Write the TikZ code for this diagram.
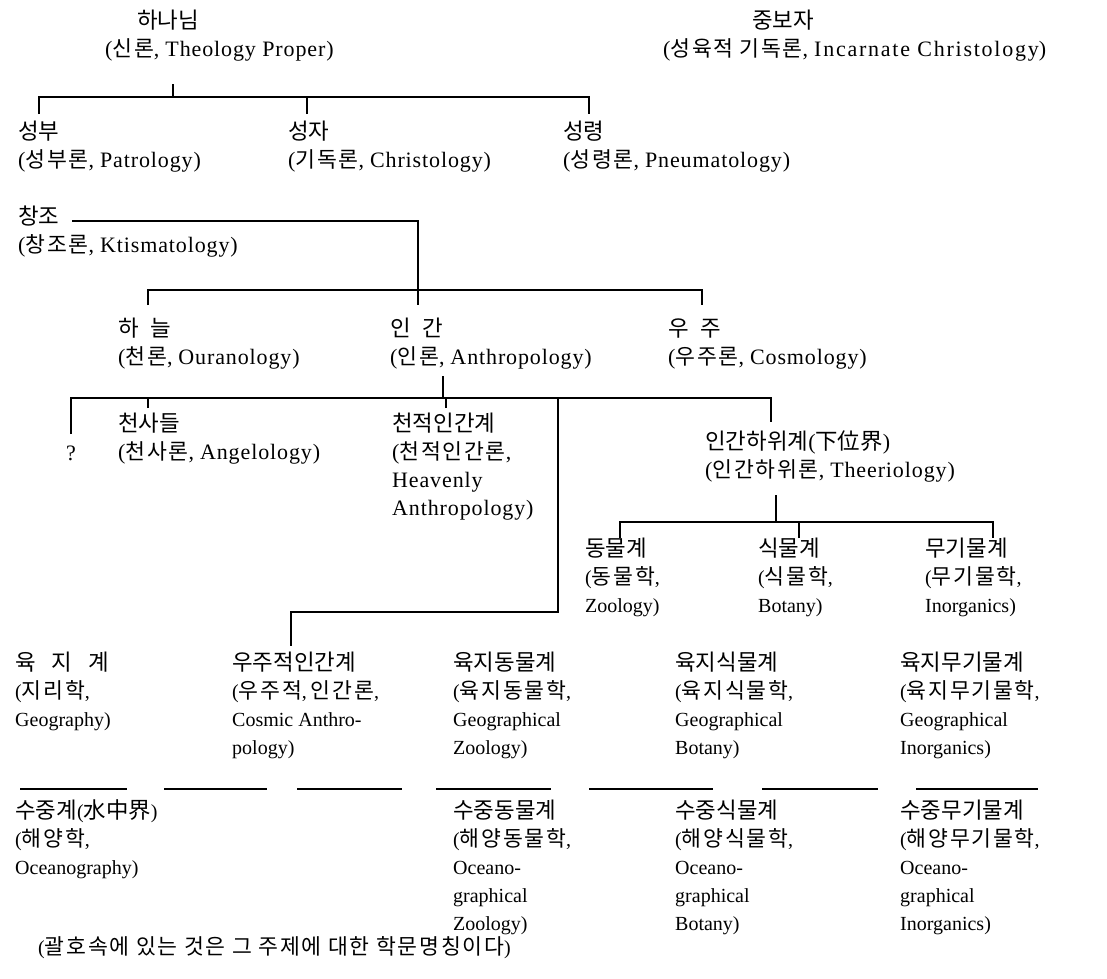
\documentclass[tikz,border=0pt]{standalone}
\usepackage{fontspec}
\setmainfont{Liberation Serif}
\newfontfamily\wideserif{Liberation Serif}[LetterSpace=4]
\newfontfamily\krfont{Noto Sans CJK KR}
\newfontfamily\krpfont{Noto Sans CJK KR}[LetterSpace=8]
\newcommand\ko[1]{{\fontsize{22.4}{28}\selectfont\krfont #1}}
\newcommand\kp[1]{{\fontsize{21.6}{28}\selectfont\krpfont #1}}
\begin{document}
\begin{tikzpicture}[x=1pt,y=-1pt,
  lab/.style={anchor=north west, inner sep=0pt, align=left, font=\fontsize{20}{28}\selectfont},
  labu/.style={lab, font=\fontsize{22}{28}\selectfont\wideserif},
  ln/.style={line width=1.7pt, line cap=butt}]
\useasboundingbox (0,0) rectangle (1107,978);

% ---- texts ----
\node[labu] (god) at (137,9) {\strut\ko{하나님}};
\node[labu] (godsub) at (105,37) {\strut(\kp{신론},\hspace{6pt}Theology Proper)};
\node[labu] (med) at (752,9) {\strut\ko{중보자}};
\node[labu] (medsub) at (663,37) {\strut(\kp{성육적}\hspace{6pt}\kp{기독론},\hspace{6pt}{\addfontfeature{LetterSpace=8}Incarnate Christology})};

\node[labu] (father) at (18,120) {\strut\ko{성부}\\(\kp{성부론},\hspace{6pt}Patrology)};
\node[labu] (son) at (288,120) {\strut\ko{성자}\\(\kp{기독론},\hspace{6pt}Christology)};
\node[labu] (spirit) at (563,120) {\strut\ko{성령}\\(\kp{성령론},\hspace{6pt}Pneumatology)};

\node[labu] (creation) at (18,205) {\strut\ko{창조}\\(\kp{창조론},\hspace{6pt}Ktismatology)};

\node[labu] (heaven) at (118,317) {\strut\ko{하\hspace{12pt}늘}\\(\kp{천론},\hspace{6pt}Ouranology)};
\node[labu] (man) at (390,317) {\strut\ko{인\hspace{12pt}간}\\(\kp{인론},\hspace{6pt}Anthropology)};
\node[labu] (cosmos) at (668,317) {\strut\ko{우\hspace{12pt}주}\\(\kp{우주론},\hspace{6pt}Cosmology)};

\node[labu] (unknown) at (66,441) {\strut ?};
\node[labu] (angels) at (118,412) {\strut\ko{천사들}\\(\kp{천사론},\hspace{6pt}Angelology)};
\node[labu] (heavman) at (392,412) {\strut\ko{천적인간계}\\(\kp{천적인간론},\\Heavenly\\Anthropology)};
\node[labu] (subhuman) at (705,430) {\strut\ko{인간하위계}(\ko{下位界})\\(\kp{인간하위론},\hspace{6pt}Theeriology)};

\node[lab] (animal) at (585,537) {\strut\ko{동물계}\\(\kp{동물학},\\Zoology)};
\node[lab] (plant) at (758,537) {\strut\ko{식물계}\\(\kp{식물학},\\Botany)};
\node[lab] (inorg) at (925,537) {\strut\ko{무기물계}\\(\kp{무기물학},\\Inorganics)};

\node[lab] (land) at (15,651) {\strut\ko{육\hspace{16pt}지\hspace{16pt}계}\\(\kp{지리학},\\Geography)};
\node[lab] (cosman) at (232,651) {\strut\ko{우주적인간계}\\(\kp{우주적},\hspace{4pt}\kp{인간론},\\Cosmic Anthro-\\pology)};
\node[lab] (landanimal) at (453,651) {\strut\ko{육지동물계}\\(\kp{육지동물학},\\Geographical\\Zoology)};
\node[lab] (landplant) at (675,651) {\strut\ko{육지식물계}\\(\kp{육지식물학},\\Geographical\\Botany)};
\node[lab] (landinorg) at (900,651) {\strut\ko{육지무기물계}\\(\kp{육지무기물학},\\Geographical\\Inorganics)};

\node[lab] (water) at (15,799) {\strut\ko{수중계}(\ko{水中界})\\(\kp{해양학},\\Oceanography)};
\node[lab] (wateranimal) at (453,799) {\strut\ko{수중동물계}\\(\kp{해양동물학},\\Oceano-\\graphical\\Zoology)};
\node[lab] (waterplant) at (675,799) {\strut\ko{수중식물계}\\(\kp{해양식물학},\\Oceano-\\graphical\\Botany)};
\node[lab] (waterinorg) at (900,799) {\strut\ko{수중무기물계}\\(\kp{해양무기물학},\\Oceano-\\graphical\\Inorganics)};

\node[lab] (note) at (38,935) {\strut(\kp{괄호속에 있는 것은 그 주제에 대한 학문명칭이다})};

% ---- connector coordinates ----
\coordinate (g0) at (173,84);  \coordinate (g1) at (173,97);
\coordinate (f0) at (39,114);  \coordinate (s0) at (307,114); \coordinate (p0) at (589,114);
\draw[ln] (g0) -- (g1);
\draw[ln] (f0) -- (f0 |- g1) -- (p0 |- g1) -- (p0);
\draw[ln] (s0) -- (s0 |- g1);

\coordinate (c0) at (72,221); \coordinate (c1) at (418,221); \coordinate (c2) at (418,305);
\coordinate (hv0) at (148,305); \coordinate (cs0) at (702,305); \coordinate (cb) at (418,290);
\draw[ln] (c0) -- (c1) -- (c2);
\draw[ln] (hv0) -- (hv0 |- cb) -- (cs0 |- cb) -- (cs0);

\coordinate (m0) at (443,376); \coordinate (m1) at (443,398);
\coordinate (q0) at (71,434); \coordinate (a0) at (148,408); \coordinate (hm0) at (446,408);
\coordinate (sh0) at (771,422); \coordinate (v0) at (558,398); \coordinate (v1) at (558,612);
\coordinate (v2) at (291,612); \coordinate (cm0) at (291,646);
\draw[ln] (m0) -- (m1);
\draw[ln] (q0) -- (q0 |- m1) -- (sh0 |- m1) -- (sh0);
\draw[ln] (a0) -- (a0 |- m1);
\draw[ln] (hm0) -- (hm0 |- m1);
\draw[ln] (v0) -- (v1) -- (v2) -- (cm0);

\coordinate (u0) at (776,495); \coordinate (u1) at (776,522);
\coordinate (an0) at (620,538); \coordinate (pl0) at (799,538); \coordinate (in0) at (993,538);
\draw[ln] (u0) -- (u1);
\draw[ln] (an0) -- (an0 |- u1) -- (in0 |- u1) -- (in0);
\draw[ln] (pl0) -- (pl0 |- u1);

% separators
\foreach \a/\b [count=\i] in {20/127,164/267,297/402,436/551,589/713,762/878,916/1038}
  {\coordinate (sepL\i) at (\a,789); \coordinate (sepR\i) at (\b,789);
   \draw[line width=1.4pt] (sepL\i) -- (sepR\i);}
\end{tikzpicture}
\end{document}
